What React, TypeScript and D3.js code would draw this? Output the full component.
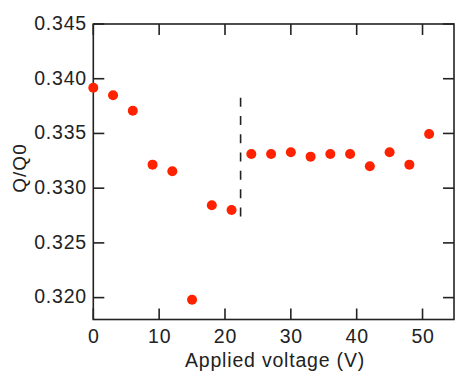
import React from "react";
import * as d3 from "d3";

const voltage = [0, 3, 6, 9, 12, 15, 18, 21, 24, 27, 30, 33, 36, 39, 42, 45, 48, 51];
const ratio = [
  0.33918, 0.33849, 0.33708, 0.33215, 0.33155, 0.3198, 0.32844, 0.32801,
  0.33313, 0.33313, 0.33328, 0.33288, 0.33313, 0.33313, 0.3320, 0.33328,
  0.33215, 0.33495,
];
const xTicks = [0, 10, 20, 30, 40, 50];
const yTicks = [0.32, 0.325, 0.33, 0.335, 0.34, 0.345];
const dividerX = 22.37;
const dividerY = [0.3274, 0.33827];

const W = 455;
const H = 372;
const left = 93.3;
const right = 454;
const top = 24;
const bottom = 319.5;
const font = "'Liberation Sans', Arial, Helvetica, sans-serif";
const ink = "#222";

export default function App() {
  const x = d3.scaleLinear().domain([0, 54.78]).range([left, right]);
  const y = d3.scaleLinear().domain([0.318, 0.345]).range([bottom, top]);
  const tl = 11;
  return (
    <svg
      width={W}
      height={H}
      style={{ position: "absolute", left: 0, top: 0, background: "#fff" }}
    >
      <rect
        x={left}
        y={top}
        width={right - left}
        height={bottom - top}
        fill="none"
        stroke={ink}
        strokeWidth={1.6}
      />
      {xTicks.map((t) => (
        <g key={"xt" + t}>
          <line x1={x(t)} x2={x(t)} y1={bottom} y2={bottom - tl} stroke={ink} strokeWidth={1.6} />
          <line x1={x(t)} x2={x(t)} y1={top} y2={top + tl} stroke={ink} strokeWidth={1.6} />
          <text
            x={x(t) + 0.5}
            y={343}
            textAnchor="middle"
            fontFamily={font}
            fontSize={19.5}
            letterSpacing={0.8}
            fill={ink}
          >
            {t}
          </text>
        </g>
      ))}
      {yTicks.map((t) => (
        <g key={"yt" + t}>
          <line x1={left} x2={left + tl} y1={y(t)} y2={y(t)} stroke={ink} strokeWidth={1.6} />
          <line x1={right} x2={right - tl} y1={y(t)} y2={y(t)} stroke={ink} strokeWidth={1.6} />
          <text
            x={87}
            y={y(t) + 5.8}
            textAnchor="end"
            fontFamily={font}
            fontSize={19.5}
            letterSpacing={0.8}
            fill={ink}
          >
            {d3.format(".3f")(t)}
          </text>
        </g>
      ))}
      <line
        x1={x(dividerX)}
        x2={x(dividerX)}
        y1={y(dividerY[1])}
        y2={y(dividerY[0])}
        stroke={ink}
        strokeWidth={1.6}
        strokeDasharray="9 9.3"
      />
      {voltage.map((v, i) => (
        <circle key={"p" + i} cx={x(v)} cy={y(ratio[i])} r={5} fill="#ff2200" />
      ))}
      <text
        x={275}
        y={366.7}
        textAnchor="middle"
        fontFamily={font}
        fontSize={19.5}
        letterSpacing={0.8}
        fill={ink}
      >
        Applied voltage (V)
      </text>
      <text
        transform="translate(26,168) rotate(-90)"
        textAnchor="middle"
        fontFamily={font}
        fontSize={19}
        letterSpacing={1}
        fill={ink}
      >
        Q/Q0
      </text>
    </svg>
  );
}
